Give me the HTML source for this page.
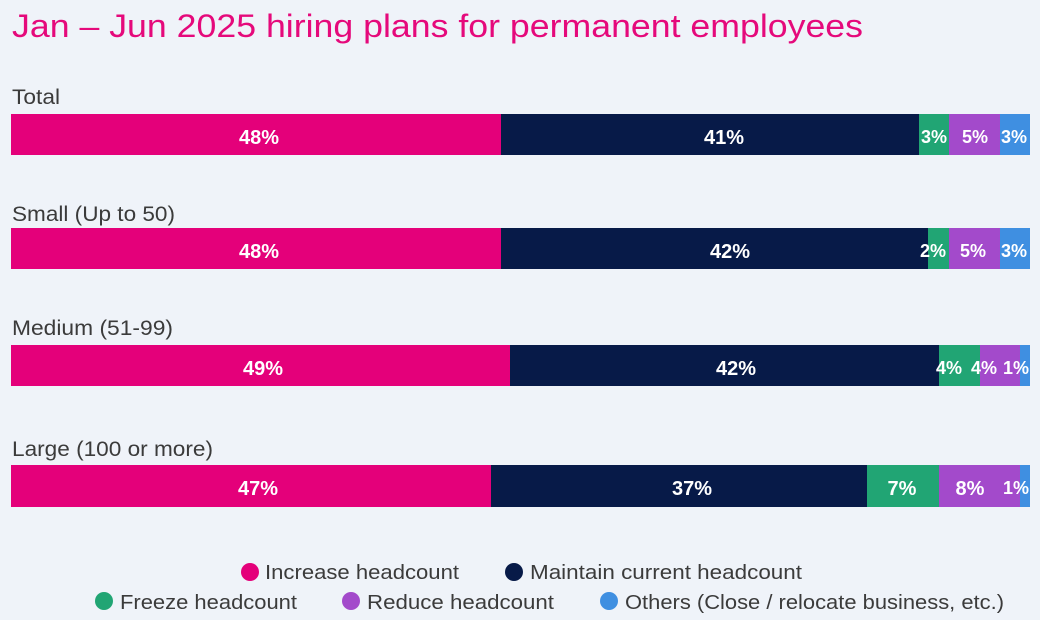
<!DOCTYPE html>
<html><head><meta charset="utf-8"><style>
html,body{margin:0;padding:0;background:#fff;}
svg{display:block;}
</style></head><body>
<svg width="1045" height="626" viewBox="0 0 1045 626" xmlns="http://www.w3.org/2000/svg" font-family="'Liberation Sans', sans-serif">
<rect x="0" y="0" width="1040" height="620" fill="#eff3f9"/>
<text x="12" y="37" font-size="32" fill="#e5097b" textLength="851" lengthAdjust="spacingAndGlyphs">Jan – Jun 2025 hiring plans for permanent employees</text>

<g font-size="21" fill="#3b3b3b">
<text x="12" y="104" textLength="48" lengthAdjust="spacingAndGlyphs">Total</text>
<text x="12" y="221" textLength="163" lengthAdjust="spacingAndGlyphs">Small (Up to 50)</text>
<text x="12" y="335" textLength="161" lengthAdjust="spacingAndGlyphs">Medium (51-99)</text>
<text x="12" y="456" textLength="201" lengthAdjust="spacingAndGlyphs">Large (100 or more)</text>
</g>

<!-- Total -->
<rect x="11" y="114" width="490" height="41" fill="#e4007a"/>
<rect x="501" y="114" width="418" height="41" fill="#071a48"/>
<rect x="919" y="114" width="30" height="41" fill="#21a574"/>
<rect x="949" y="114" width="51" height="41" fill="#a34acb"/>
<rect x="1000" y="114" width="30" height="41" fill="#3f8fe1"/>
<!-- Small -->
<rect x="11" y="228" width="490" height="41" fill="#e4007a"/>
<rect x="501" y="228" width="427" height="41" fill="#071a48"/>
<rect x="928" y="228" width="21" height="41" fill="#21a574"/>
<rect x="949" y="228" width="51" height="41" fill="#a34acb"/>
<rect x="1000" y="228" width="30" height="41" fill="#3f8fe1"/>
<!-- Medium -->
<rect x="11" y="345" width="499" height="41" fill="#e4007a"/>
<rect x="510" y="345" width="429" height="41" fill="#071a48"/>
<rect x="939" y="345" width="41" height="41" fill="#21a574"/>
<rect x="980" y="345" width="40" height="41" fill="#a34acb"/>
<rect x="1020" y="345" width="10" height="41" fill="#3f8fe1"/>
<!-- Large -->
<rect x="11" y="465" width="480" height="42" fill="#e4007a"/>
<rect x="491" y="465" width="376" height="42" fill="#071a48"/>
<rect x="867" y="465" width="72" height="42" fill="#21a574"/>
<rect x="939" y="465" width="81" height="42" fill="#a34acb"/>
<rect x="1020" y="465" width="10" height="42" fill="#3f8fe1"/>

<g font-size="20" font-weight="bold" fill="#ffffff" text-anchor="middle">
<text x="259" y="144">48%</text>
<text x="724" y="144">41%</text>
<text x="259" y="258">48%</text>
<text x="730" y="258">42%</text>
<text x="263" y="375">49%</text>
<text x="736" y="375">42%</text>
<text x="258" y="495">47%</text>
<text x="692" y="495">37%</text>
<text x="902" y="495">7%</text>
<text x="970" y="495">8%</text>
</g>
<g font-size="18" font-weight="bold" fill="#ffffff" text-anchor="middle">
<text x="934" y="143">3%</text>
<text x="975" y="143">5%</text>
<text x="1014" y="143">3%</text>
<text x="933" y="257">2%</text>
<text x="973" y="257">5%</text>
<text x="1014" y="257">3%</text>
<text x="949" y="374">4%</text>
<text x="984" y="374">4%</text>
<text x="1016" y="374">1%</text>
<text x="1016" y="494">1%</text>
</g>

<g font-size="20" fill="#3b3b3b">
<circle cx="250" cy="572" r="9" fill="#e4007a"/>
<text x="265" y="579" textLength="194" lengthAdjust="spacingAndGlyphs">Increase headcount</text>
<circle cx="514" cy="572" r="9" fill="#071a48"/>
<text x="530" y="579" textLength="272" lengthAdjust="spacingAndGlyphs">Maintain current headcount</text>
<circle cx="104" cy="601" r="9" fill="#21a574"/>
<text x="120" y="609" textLength="177" lengthAdjust="spacingAndGlyphs">Freeze headcount</text>
<circle cx="351" cy="601" r="9" fill="#a34acb"/>
<text x="367" y="609" textLength="187" lengthAdjust="spacingAndGlyphs">Reduce headcount</text>
<circle cx="609" cy="601" r="9" fill="#3f8fe1"/>
<text x="625" y="609" textLength="379" lengthAdjust="spacingAndGlyphs">Others (Close / relocate business, etc.)</text>
</g>
</svg>
</body></html>
